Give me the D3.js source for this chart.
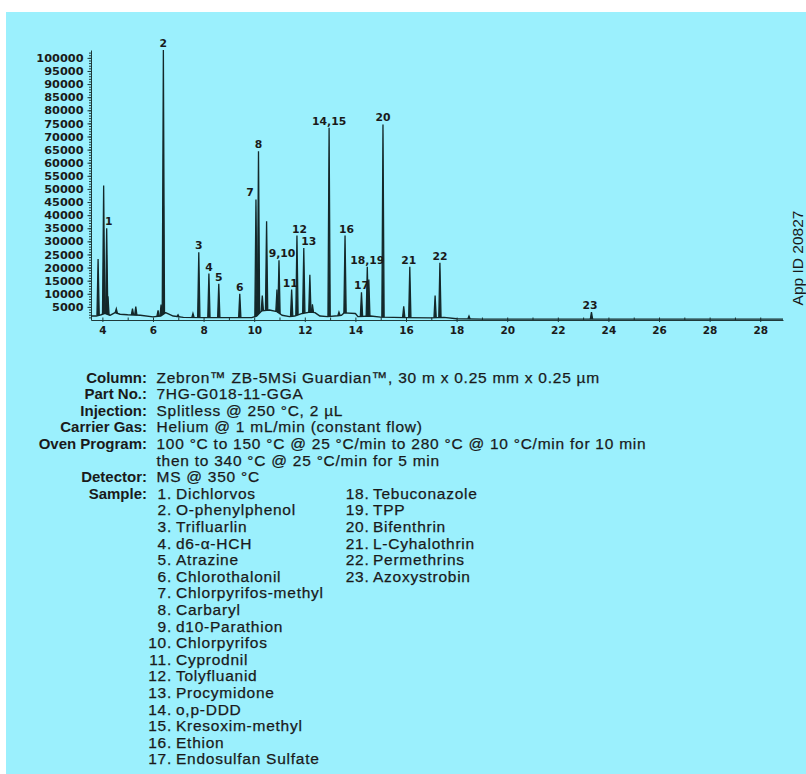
<!DOCTYPE html>
<html>
<head>
<meta charset="utf-8">
<script src="https://d3js.org/d3.v7.min.js"></script>
<style>
  body { margin: 0; background: #ffffff; }
  svg { display: block; }
  text { fill: #1a1a1a; }
  .axis path, .axis line { stroke: #1f3a3a; stroke-width: 1px; }
  .axis text { font-family: "DejaVu Sans"; font-weight: bold; fill: #1a1a1a; }
  .y-axis text { font-size: 11.3px; }
  .x-axis text { font-size: 10.5px; }
  .peak-label { font-family: "DejaVu Sans"; font-weight: bold; font-size: 10.8px; }
  .info-label { font-family: "Liberation Sans", Arial; font-weight: bold; font-size: 15px; }
  .info-value { font-family: "Liberation Sans", Arial; font-size: 15.5px; letter-spacing: 0.75px;
                stroke: #1a1a1a; stroke-width: 0.25px; }
  .app-id { font-family: "Liberation Sans", Arial; font-size: 15.5px; }
</style>
</head>
<body>
<div id="chart"></div>
<script>

// peaks: retention time (min), height (counts), label
const peakTime   = [3.83, 4.05, 4.17, 4.22, 4.55, 5.19, 5.32, 6.20, 6.32, 6.41, 6.99, 7.58, 7.81, 8.21, 8.60, 9.43,
                    10.07, 10.17, 10.32, 10.49, 10.90, 10.98, 11.48, 11.69, 11.96, 12.20, 12.30, 12.96, 13.35, 13.59,
                    14.24, 14.47, 14.53, 15.09, 15.91, 16.15, 17.15, 17.34, 18.49, 23.33];
const peakHeight = [23300, 51300, 35000, 9000, 4300, 4300, 5100, 3700, 5900, 103000, 2000, 2500, 25800, 17700, 13800, 10000,
                    46000, 64400, 9300, 37700, 11600, 22800, 11600, 32200, 27500, 17300, 6000, 73300, 3000, 32200,
                    10600, 20300, 15400, 74600, 5200, 20300, 9300, 21800, 1500, 3000];
const peakLabel  = ["", "", "1", "", "", "", "", "", "", "2", "", "", "3", "4", "5", "6",
                    "7", "8", "", "", "", "9,10", "11", "12", "13", "", "", "14,15", "", "16",
                    "17", "18,19", "", "20", "", "21", "", "22", "", "23"];

// baseline of the trace between peaks
const baseTime  = [3.55, 3.75, 3.95, 4.1, 4.3, 4.5, 4.7, 5.0, 5.5, 6.0, 6.3, 6.5, 6.8, 7.2, 8.0, 9.0, 9.9, 10.1, 10.3,
                   10.6, 10.9, 11.1, 11.4, 11.6, 11.9, 12.2, 12.4, 12.6, 12.9, 13.3, 13.45, 13.55, 14.0, 14.1, 14.6,
                   15.0, 16.0, 17.0, 17.5, 18.0, 19.0, 30.9];
const baseLevel = [1500, 1500, 2000, 2500, 1800, 2800, 2200, 2000, 1800, 1200, 1500, 2800, 1500, 1000, 900, 900, 900, 1500, 3500,
                   3800, 3200, 1800, 1300, 1500, 2500, 3000, 2800, 1500, 1300, 1600, 1800, 2700, 2500, 1300, 1500,
                   1100, 900, 800, 1000, 500, 350, 350];

const xTicks = [4, 6, 8, 10, 12, 14, 16, 18, 20, 22, 24, 26, 28, 30];
const xTickLabels = ["4", "6", "8", "10", "12", "14", "16", "18", "20", "22", "24", "26", "28", "28"];
const yTicks = [5000, 10000, 15000, 20000, 25000, 30000, 35000, 40000, 45000, 50000,
                55000, 60000, 65000, 70000, 75000, 80000, 85000, 90000, 95000, 100000];

const infoLabels = ["Column:", "Part No.:", "Injection:", "Carrier Gas:", "Oven Program:", "", "Detector:", "Sample:"];
const infoValues = [
  "Zebron\u2122 ZB-5MSi Guardian\u2122, 30 m x 0.25 mm x 0.25 \u00b5m",
  "7HG-G018-11-GGA",
  "Splitless @ 250 \u00b0C, 2 \u00b5L",
  "Helium @ 1 mL/min (constant flow)",
  "100 \u00b0C to 150 \u00b0C @ 25 \u00b0C/min to 280 \u00b0C @ 10 \u00b0C/min for 10 min",
  "then to 340 \u00b0C @ 25 \u00b0C/min for 5 min",
  "MS @ 350 \u00b0C",
  ""
];
const sampleNames = ["Dichlorvos", "O-phenylphenol", "Trifluarlin", "d6-\u03b1-HCH", "Atrazine", "Chlorothalonil",
  "Chlorpyrifos-methyl", "Carbaryl", "d10-Parathion", "Chlorpyrifos", "Cyprodnil", "Tolyfluanid", "Procymidone",
  "o,p-DDD", "Kresoxim-methyl", "Ethion", "Endosulfan Sulfate", "Tebuconazole", "TPP", "Bifenthrin",
  "L-Cyhalothrin", "Permethrins", "Azoxystrobin"];

const W = 806, H = 774;
const svg = d3.select("#chart").append("svg")
  .attr("width", W)
  .attr("height", H);

svg.append("rect").attr("x", 6).attr("y", 12).attr("width", W - 6).attr("height", H - 12)
  .attr("fill", "#9bf0fd");

// scales
const x = d3.scaleLinear().domain([3.55, 30.9]).range([91, 783]);
const y = d3.scaleLinear().domain([0, 103000]).range([320, 50]);
const baseAt = d3.scaleLinear().domain(baseTime).range(baseLevel);

// y axis, minor ticks first
svg.append("g")
  .attr("class", "axis")
  .attr("transform", "translate(91,0)")
  .call(d3.axisLeft(y).tickValues(d3.range(1000, 103000, 1000)).tickSize(2).tickFormat(""))
  .call(g => g.select(".domain").remove());
svg.append("g")
  .attr("class", "axis y-axis")
  .attr("transform", "translate(91,0)")
  .call(d3.axisLeft(y).tickValues(yTicks).tickSize(3.5).tickPadding(4).tickSizeOuter(0)
    .tickFormat(d => String(d)));

// x axis
svg.append("g")
  .attr("class", "axis")
  .attr("transform", `translate(0,${y(0)})`)
  .call(d3.axisBottom(x).tickValues(d3.range(4, 31, 1)).tickSize(-2.5).tickFormat(""))
  .call(g => g.select(".domain").remove());
svg.append("g")
  .attr("class", "axis x-axis")
  .attr("transform", `translate(0,${y(0)})`)
  .call(d3.axisBottom(x).tickValues(xTicks).tickSize(2).tickPadding(5).tickSizeOuter(0)
    .tickFormat((d, i) => xTickLabels[i]));

// baseline trace
const line = d3.line().x(d => x(d[0])).y(d => y(d[1]));
svg.append("path")
  .datum(d3.zip(baseTime, baseLevel))
  .attr("d", line)
  .attr("fill", "none")
  .attr("stroke", "#14282a")
  .attr("stroke-width", 1.4)
  .attr("stroke-linejoin", "round");

// peaks as narrow spikes
const half = 0.045;
const peaks = peakTime.map((t, i) => ({ t: t, h: peakHeight[i], label: peakLabel[i] }));
svg.append("g").selectAll("path")
  .data(peaks)
  .join("path")
    .attr("d", d => line([[d.t - half, baseAt(d.t - half)], [d.t, d.h], [d.t + half, baseAt(d.t + half)]]))
    .attr("fill", "#14282a")
    .attr("stroke", "#14282a")
    .attr("stroke-width", 1.3)
    .attr("stroke-linejoin", "miter");

// peak labels
const nudge = { "1": 2, "7": -6, "9,10": 3, "11": -1.5, "12": 2.5, "13": 5, "16": 1.5, "21": -1, "23": -1.5 };
svg.append("g").selectAll("text")
  .data(peaks.filter(d => d.label !== ""))
  .join("text")
    .attr("class", "peak-label")
    .attr("x", d => x(d.t) + (nudge[d.label] || 0))
    .attr("y", d => y(d.h) - 3)
    .attr("text-anchor", "middle")
    .text(d => d.label);

// app id
svg.append("text")
  .attr("class", "app-id")
  .attr("transform", "translate(803,258) rotate(-90)")
  .attr("text-anchor", "middle")
  .text("App ID 20827");

// conditions block
const row0 = 382.6, rowH = 16.6;
const info = svg.append("g");
info.selectAll("text.info-label")
  .data(infoLabels)
  .join("text")
    .attr("class", "info-label")
    .attr("x", 147)
    .attr("y", (d, i) => row0 + i * rowH)
    .attr("text-anchor", "end")
    .text(d => d);
info.selectAll("text.info-value")
  .data(infoValues)
  .join("text")
    .attr("class", "info-value")
    .attr("x", 156.5)
    .attr("y", (d, i) => row0 + i * rowH)
    .text(d => d);

// sample list in two columns
const samples = sampleNames.map((n, i) => ({ n: n, k: i + 1, col: i < 17 ? 0 : 1, row: i < 17 ? i : i - 17 }));
const numEnd = [172, 369.5], nameX = [176, 373];
info.selectAll("text.sample-num")
  .data(samples)
  .join("text")
    .attr("class", "info-value sample-num")
    .attr("x", d => numEnd[d.col])
    .attr("y", d => row0 + (7 + d.row) * rowH)
    .attr("text-anchor", "end")
    .text(d => d.k + ".");
info.selectAll("text.sample-name")
  .data(samples)
  .join("text")
    .attr("class", "info-value sample-name")
    .attr("x", d => nameX[d.col])
    .attr("y", d => row0 + (7 + d.row) * rowH)
    .text(d => d.n);

</script>
</body>
</html>
